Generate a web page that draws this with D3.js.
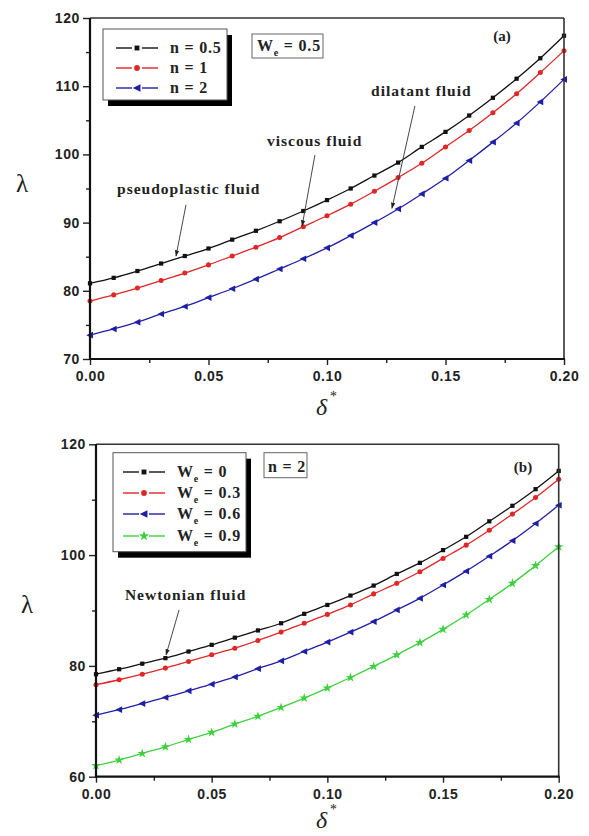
<!DOCTYPE html>
<html>
<head>
<meta charset="utf-8">
<script src="https://cdn.jsdelivr.net/npm/d3@7"></script>
<style>
  html, body { margin: 0; padding: 0; background: #fff; }
  svg { display: block; }
  .tick text { font-family: "Liberation Sans", Arial, sans-serif; font-weight: bold; font-size: 14px; fill: #222; letter-spacing: 0.6px; }
  .tick line { stroke: #222; stroke-width: 1.4; }
  .serif { font-family: "Liberation Serif", "Times New Roman", serif; font-weight: bold; fill: #222; }
</style>
</head>
<body>
<script>
// Dimensionless thickness δ* (x values shared by every curve)
const deltaValues = [0.00, 0.01, 0.02, 0.03, 0.04, 0.05, 0.06, 0.07, 0.08, 0.09, 0.10,
                     0.11, 0.12, 0.13, 0.14, 0.15, 0.16, 0.17, 0.18, 0.19, 0.20];

// Panel (a): We = 0.5, power-law index n
const lambdaN05 = [81.1, 81.9, 82.9, 84.0, 85.1, 86.2, 87.5, 88.8, 90.2, 91.7, 93.3,
                   95.0, 96.9, 98.8, 101.1, 103.3, 105.7, 108.3, 111.1, 114.1, 117.4];
const lambdaN1  = [78.5, 79.4, 80.4, 81.5, 82.6, 83.8, 85.1, 86.4, 87.8, 89.4, 91.0,
                   92.7, 94.6, 96.6, 98.7, 101.1, 103.5, 106.1, 108.9, 112.0, 115.2];
const lambdaN2  = [73.5, 74.4, 75.4, 76.6, 77.7, 79.0, 80.3, 81.7, 83.2, 84.7, 86.3,
                   88.1, 90.0, 92.0, 94.2, 96.5, 99.1, 101.8, 104.6, 107.7, 111.0];
const labelsA = ["0.5", "1", "2"];

// Panel (b): n = 2, Weissenberg number We
const lambdaWe0  = [78.5, 79.4, 80.4, 81.4, 82.6, 83.8, 85.1, 86.4, 87.7, 89.4, 91.0,
                    92.7, 94.5, 96.6, 98.6, 100.9, 103.3, 106.1, 108.9, 111.9, 115.2];
const lambdaWe03 = [76.6, 77.5, 78.5, 79.6, 80.8, 82.0, 83.2, 84.6, 86.1, 87.7, 89.3,
                    91.0, 93.0, 94.9, 97.0, 99.4, 101.8, 104.5, 107.4, 110.4, 113.7];
const lambdaWe06 = [71.1, 72.1, 73.2, 74.3, 75.5, 76.7, 78.0, 79.5, 80.9, 82.6, 84.3,
                    86.1, 88.0, 90.1, 92.2, 94.6, 97.1, 99.8, 102.6, 105.7, 109.0];
const lambdaWe09 = [62.0, 63.0, 64.2, 65.4, 66.7, 68.0, 69.5, 70.9, 72.5, 74.2, 76.0,
                    77.9, 79.9, 82.0, 84.2, 86.6, 89.2, 92.0, 94.9, 98.1, 101.5];
const labelsB = ["0", "0.3", "0.6", "0.9"];

// Tick values
const xTicks = [0.00, 0.05, 0.10, 0.15, 0.20];
const xMinorTicks = [0.025, 0.075, 0.125, 0.175];
const yTicksA = [70, 80, 90, 100, 110, 120];
const yMinorA = [75, 85, 95, 105, 115];
const yTicksB = [60, 80, 100, 120];
const yMinorB = [70, 90, 110];

// Annotations: [text, text δ, text λ, tail δ, tail λ, tip δ, tip λ]
const notesA = [
  ["pseudoplastic fluid", 0.0114, 94.2, 0.0405, 92.6, 0.0363, 85.1],
  ["viscous fluid",       0.0747, 101.2, 0.0949, 99.9, 0.0895, 89.5],
  ["dilatant fluid",      0.1186, 108.6, 0.1371, 107.1, 0.1274, 92.1]
];
const notesB = [
  ["Newtonian fluid", 0.0125, 91.9, 0.0359, 90.1, 0.0303, 82.0]
];

const colors = ["#111111", "#e02626", "#1f1fa6", "#3fcf3f"];
const triLeft = { draw(ctx, size) { // left-pointing triangle
  const r = Math.sqrt(size / 1.3);
  ctx.moveTo(-r, 0); ctx.lineTo(r * 0.8, -r * 0.9); ctx.lineTo(r * 0.8, r * 0.9); ctx.closePath();
} };
const symbols = [d3.symbolSquare, d3.symbolCircle, triLeft, d3.symbolStar];
const symSizes = [18, 20, 18, 28];

const svg = d3.select("body").append("svg").attr("width", 589).attr("height", 836);

const defs = svg.append("defs");
defs.append("marker").attr("id", "arrow")
  .attr("viewBox", "0 0 10 10").attr("refX", 9).attr("refY", 5)
  .attr("markerWidth", 7).attr("markerHeight", 7).attr("orient", "auto")
  .append("path").attr("d", "M0,1.5 L10,5 L0,8.5 Z").attr("fill", "#222");

function subLabel(g, x, y, main, sub, rest, size) {
  const t = g.append("text").attr("class", "serif").attr("x", x).attr("y", y)
    .attr("font-size", size).style("letter-spacing", "0.8px");
  t.append("tspan").text(main);
  t.append("tspan").attr("font-size", size * 0.62).attr("dy", 5).text(sub);
  t.append("tspan").attr("dy", -5).text(rest);
  return t;
}

function drawPanel(p) {
  const x = d3.scaleLinear().domain([0, 0.2]).range([p.left, p.right]);
  const y = d3.scaleLinear().domain(p.yDomain).range([p.bottom, p.top]);
  const g = svg.append("g");

  // curves and markers
  p.series.forEach((vals, i) => {
    const pts = deltaValues.map((d, k) => [d, vals[k]]);
    g.append("path").datum(pts)
      .attr("fill", "none").attr("stroke", colors[i]).attr("stroke-width", 1.3)
      .attr("d", d3.line().x(d => x(d[0])).y(d => y(d[1])).curve(d3.curveMonotoneX));
    g.selectAll(null).data(pts).join("path")
      .attr("transform", d => `translate(${x(d[0])},${y(d[1])})`)
      .attr("d", d3.symbol(symbols[i], symSizes[i]))
      .attr("fill", colors[i]);
  });

  // axes
  const fmtX = d3.format(".2f");
  g.append("g").attr("transform", `translate(0,${p.bottom})`)
    .call(d3.axisBottom(x).tickValues(xTicks).tickFormat(fmtX).tickSize(6).tickPadding(6))
    .call(a => a.select(".domain").remove());
  g.append("g").attr("transform", `translate(0,${p.bottom})`)
    .call(d3.axisBottom(x).tickValues(xMinorTicks).tickFormat("").tickSize(4))
    .call(a => a.select(".domain").remove());
  g.append("g").attr("transform", `translate(${p.left},0)`)
    .call(d3.axisLeft(y).tickValues(p.yTicks).tickFormat(d3.format("d")).tickSize(7).tickPadding(3))
    .call(a => a.select(".domain").remove());
  g.append("g").attr("transform", `translate(${p.left},0)`)
    .call(d3.axisLeft(y).tickValues(p.yMinor).tickFormat("").tickSize(4))
    .call(a => a.select(".domain").remove());

  // frame
  g.append("line").attr("x1", p.left).attr("x2", p.right).attr("y1", p.top).attr("y2", p.top)
    .attr("stroke", "#333").attr("stroke-width", 1.6);
  g.append("line").attr("x1", p.right).attr("x2", p.right).attr("y1", p.top).attr("y2", p.bottom)
    .attr("stroke", "#333").attr("stroke-width", 1.6);
  g.append("line").attr("x1", p.left).attr("x2", p.left).attr("y1", p.top).attr("y2", p.bottom + 1)
    .attr("stroke", "#111").attr("stroke-width", 2.2);
  g.append("line").attr("x1", p.left - 1).attr("x2", p.right + 1).attr("y1", p.bottom).attr("y2", p.bottom)
    .attr("stroke", "#111").attr("stroke-width", 2.2);

  // axis titles
  g.append("text").attr("x", p.lambdaPos[0]).attr("y", p.lambdaPos[1])
    .attr("text-anchor", "middle").attr("font-family", "Liberation Serif, serif")
    .attr("font-size", 25).attr("fill", "#222").text("λ");
  const dt = g.append("text").attr("x", p.deltaPos[0]).attr("y", p.deltaPos[1])
    .attr("font-family", "Liberation Serif, serif").attr("font-style", "italic")
    .attr("font-size", 24).attr("fill", "#222");
  dt.append("tspan").text("δ");
  dt.append("tspan").attr("dx", 2).attr("dy", -14).attr("font-size", 14).text("*");

  // annotations
  p.notes.forEach(n => {
    g.append("text").attr("class", "serif").attr("x", x(n[1])).attr("y", y(n[2]))
      .attr("font-size", 15.5).style("letter-spacing", "1px").text(n[0]);
    g.append("line").attr("x1", x(n[3])).attr("y1", y(n[4])).attr("x2", x(n[5])).attr("y2", y(n[6]))
      .attr("stroke", "#333").attr("stroke-width", 0.9).attr("marker-end", "url(#arrow)");
  });

  // legend with drop shadow
  const L = p.legend;
  g.append("rect").attr("x", L.x + 5).attr("y", L.y + 6).attr("width", L.w).attr("height", L.h).attr("fill", "#000");
  g.append("rect").attr("x", L.x).attr("y", L.y).attr("width", L.w).attr("height", L.h)
    .attr("fill", "#fff").attr("stroke", "#555").attr("stroke-width", 1);
  p.labels.forEach((lab, i) => {
    const ry = L.rows[i];
    const mx = L.lineX0 + (L.lineX1 - L.lineX0) / 2;
    g.append("line").attr("x1", L.lineX0).attr("x2", mx - 5).attr("y1", ry).attr("y2", ry)
      .attr("stroke", colors[i]).attr("stroke-width", 1.4);
    g.append("line").attr("x1", mx + 5).attr("x2", L.lineX1).attr("y1", ry).attr("y2", ry)
      .attr("stroke", colors[i]).attr("stroke-width", 1.4);
    g.append("path").attr("transform", `translate(${mx},${ry})`)
      .attr("d", d3.symbol(symbols[i], symSizes[i] + 6)).attr("fill", colors[i]);
    if (p.legendKind === "n") {
      g.append("text").attr("class", "serif").attr("x", L.textX).attr("y", ry + 5)
        .attr("font-size", 16).style("letter-spacing", "0.8px").text("n = " + lab);
    } else {
      subLabel(g, L.textX, ry + 5, "W", "e", " = " + lab, 16);
    }
  });

  // parameter box
  const B = p.paramBox;
  g.append("rect").attr("x", B.x).attr("y", B.y).attr("width", B.w).attr("height", B.h)
    .attr("fill", "#fff").attr("stroke", "#666").attr("stroke-width", 1);
  if (B.sub) subLabel(g, B.x + 5, B.y + 17, B.main, B.sub, B.rest, 16);
  else g.append("text").attr("class", "serif").attr("x", B.x + 4).attr("y", B.y + 19)
    .attr("font-size", 16).style("letter-spacing", "0.8px").text(B.main + B.rest);

  g.append("text").attr("class", "serif").attr("x", p.tag[1]).attr("y", p.tag[2])
    .attr("text-anchor", "middle").attr("font-size", 15).text(p.tag[0]);
}

drawPanel({
  left: 90, right: 564, top: 18, bottom: 359,
  yDomain: [70, 120], yTicks: yTicksA, yMinor: yMinorA,
  series: [lambdaN05, lambdaN1, lambdaN2],
  labels: labelsA, legendKind: "n",
  legend: { x: 103, y: 29, w: 124, h: 71, rows: [48, 68, 88], lineX0: 116, lineX1: 158, textX: 170 },
  paramBox: { x: 252, y: 34, w: 71, h: 24, main: "W", sub: "e", rest: " = 0.5" },
  tag: ["(a)", 502, 41],
  notes: notesA,
  lambdaPos: [22, 192], deltaPos: [316, 415]
});

drawPanel({
  left: 96, right: 558.7, top: 444.3, bottom: 776.7,
  yDomain: [60, 120], yTicks: yTicksB, yMinor: yMinorB,
  series: [lambdaWe0, lambdaWe03, lambdaWe06, lambdaWe09],
  labels: labelsB, legendKind: "We",
  legend: { x: 113, y: 452.7, w: 133, h: 99, rows: [472, 493, 514, 536], lineX0: 123, lineX1: 165, textX: 177 },
  paramBox: { x: 264, y: 452.7, w: 43, h: 25, main: "n", rest: " = 2" },
  tag: ["(b)", 523, 472],
  notes: notesB,
  lambdaPos: [27, 613], deltaPos: [316, 828]
});
</script>
</body>
</html>
